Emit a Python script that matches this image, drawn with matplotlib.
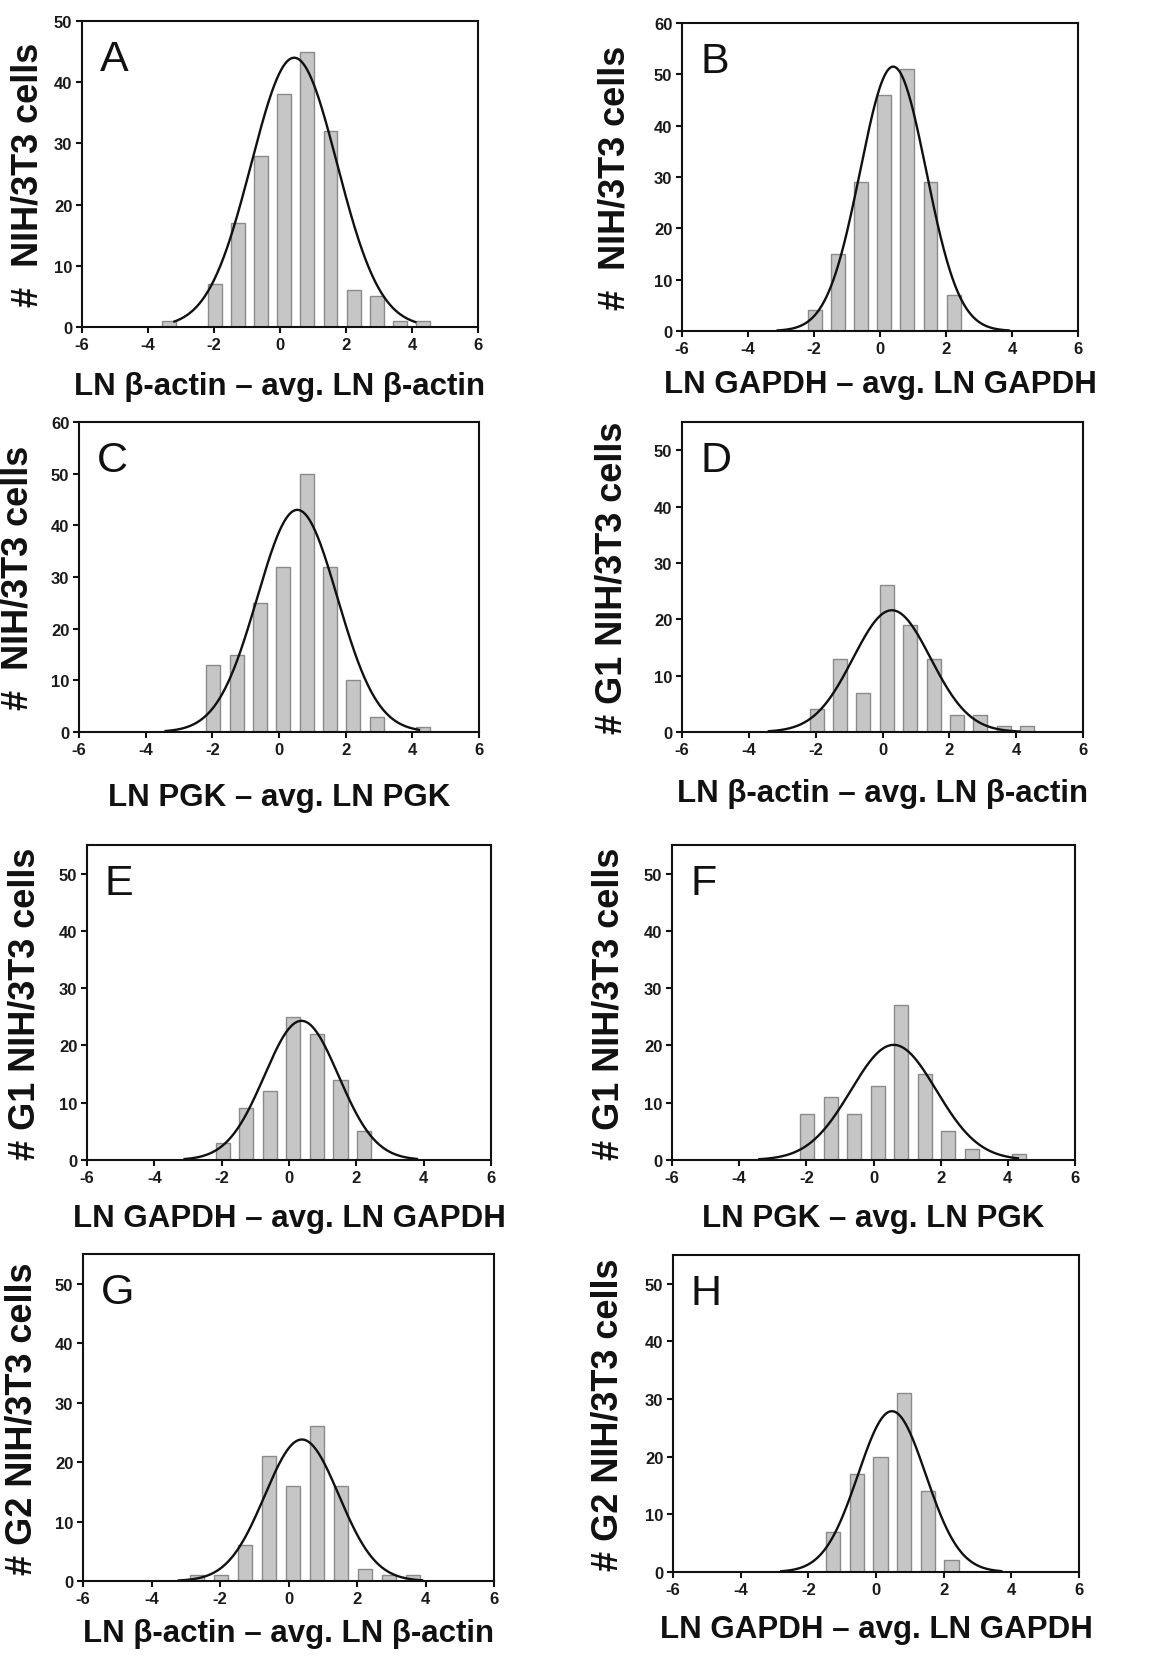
import matplotlib
matplotlib.use("Agg")
import matplotlib.pyplot as plt
import numpy as np

plt.rcParams["font.family"] = ["Liberation Sans", "DejaVu Sans"]
plt.rcParams["axes.unicode_minus"] = False

# shared histogram bin centres (bin width 0.7)
bin_centers = [-3.37, -2.67, -1.97, -1.27, -0.57, 0.13, 0.83, 1.53, 2.23, 2.93, 3.63, 4.33]

counts_a = [1, 0, 7, 17, 28, 38, 45, 32, 6, 5, 1, 1]
counts_b = [0, 0, 4, 15, 29, 46, 51, 29, 7, 0, 0, 0]
counts_c = [0, 0, 13, 15, 25, 32, 50, 32, 10, 3, 0, 1]
counts_d = [0, 0, 4, 13, 7, 26, 19, 13, 3, 3, 1, 1]
counts_e = [0, 0, 3, 9, 12, 25, 22, 14, 5, 0, 0, 0]
counts_f = [0, 0, 8, 11, 8, 13, 27, 15, 5, 2, 0, 1]
counts_g = [0, 1, 1, 6, 21, 16, 26, 16, 2, 1, 1, 0]
counts_h = [0, 0, 0, 7, 17, 20, 31, 14, 2, 0, 0, 0]

# normal fit: peak height, mean, sd, drawn range
fit_peak = [44.0, 51.5, 43.0, 21.6, 24.3, 20.1, 23.8, 27.9]
fit_mean = [0.43, 0.40, 0.55, 0.28, 0.37, 0.60, 0.39, 0.47]
fit_sd = [1.30, 1.00, 1.20, 1.16, 1.10, 1.27, 1.08, 1.00]
fit_lo = [-3.2, -3.1, -3.4, -3.4, -3.1, -3.4, -3.2, -2.8]
fit_hi = [4.1, 3.9, 4.2, 4.1, 3.8, 4.3, 3.9, 3.7]

letters = ["A", "B", "C", "D", "E", "F", "G", "H"]
xlabels = [
    "LN β-actin – avg. LN β-actin",
    "LN GAPDH – avg. LN GAPDH",
    "LN PGK – avg. LN PGK",
    "LN β-actin – avg. LN β-actin",
    "LN GAPDH – avg. LN GAPDH",
    "LN PGK – avg. LN PGK",
    "LN β-actin – avg. LN β-actin",
    "LN GAPDH – avg. LN GAPDH",
]
ylabels = [
    "#  NIH/3T3 cells",
    "#  NIH/3T3 cells",
    "#  NIH/3T3 cells",
    "# G1 NIH/3T3 cells",
    "# G1 NIH/3T3 cells",
    "# G1 NIH/3T3 cells",
    "# G2 NIH/3T3 cells",
    "# G2 NIH/3T3 cells",
]
y_max = [50, 60, 60, 55, 55, 55, 55, 55]
y_ticks_top = [50, 60, 60, 50, 50, 50, 50, 50]

all_counts = [counts_a, counts_b, counts_c, counts_d, counts_e, counts_f, counts_g, counts_h]

# layout in pixels of the 1162x1658 canvas: left, top, right, bottom
W, H = 1162, 1658
boxes = [
    (82, 22, 478, 328), (682, 24, 1078, 332),
    (79, 423, 479, 733), (682, 423, 1083, 733),
    (87, 846, 491, 1161), (672, 846, 1075, 1161),
    (83, 1255, 494, 1582), (673, 1256, 1079, 1573),
]
ylab_x = [-0.093, -0.126, -0.11, -0.13, -0.109, -0.112, -0.105, -0.118]
xlab_y = [-0.145, -0.125, -0.16, -0.148, -0.136, -0.136, -0.112, -0.134]

fig = plt.figure(figsize=(W / 100, H / 100), dpi=100)

for i in range(8):
    l, t, r, b = boxes[i]
    ax = fig.add_axes([l / W, 1 - b / H, (r - l) / W, (b - t) / H])
    xs = np.array(bin_centers)
    ys = np.array(all_counts[i], dtype=float)
    keep = ys > 0
    ax.bar(xs[keep], ys[keep], width=0.42, color="#c6c6c6",
           edgecolor="#8a8a8a", linewidth=1.0, zorder=2)
    xc = np.linspace(fit_lo[i], fit_hi[i], 300)
    yc = fit_peak[i] * np.exp(-0.5 * ((xc - fit_mean[i]) / fit_sd[i]) ** 2)
    ax.plot(xc, yc, color="#111111", linewidth=1.7, zorder=3)

    ax.set_xlim(-6, 6)
    ax.set_ylim(0, y_max[i])
    ax.set_xticks(np.arange(-6, 7, 2))
    ax.set_yticks(np.arange(0, y_ticks_top[i] + 1, 10))
    for side in ["top", "right", "left", "bottom"]:
        ax.spines[side].set_linewidth(1.5)
        ax.spines[side].set_color("#111111")
    ax.tick_params(direction="out", length=4, width=1.5, labelsize=12,
                   pad=3, colors="#111111")
    for lab in ax.get_xticklabels() + ax.get_yticklabels():
        lab.set_fontweight("bold")
        lab.set_color("#1a1a1a")

    ax.set_xlabel(xlabels[i], fontsize=22.5, fontweight="bold", color="#111111")
    ax.xaxis.set_label_coords(0.5, xlab_y[i])
    ax.set_ylabel(ylabels[i], fontsize=26, fontweight="bold", color="#111111")
    ax.yaxis.set_label_coords(ylab_x[i], 0.5)

    ax.annotate(letters[i], xy=(0, 1), xycoords="axes fraction",
                xytext=(18, -18), textcoords="offset pixels",
                ha="left", va="top", fontsize=31, color="#111111")

fig.savefig("out.png", dpi=100)
